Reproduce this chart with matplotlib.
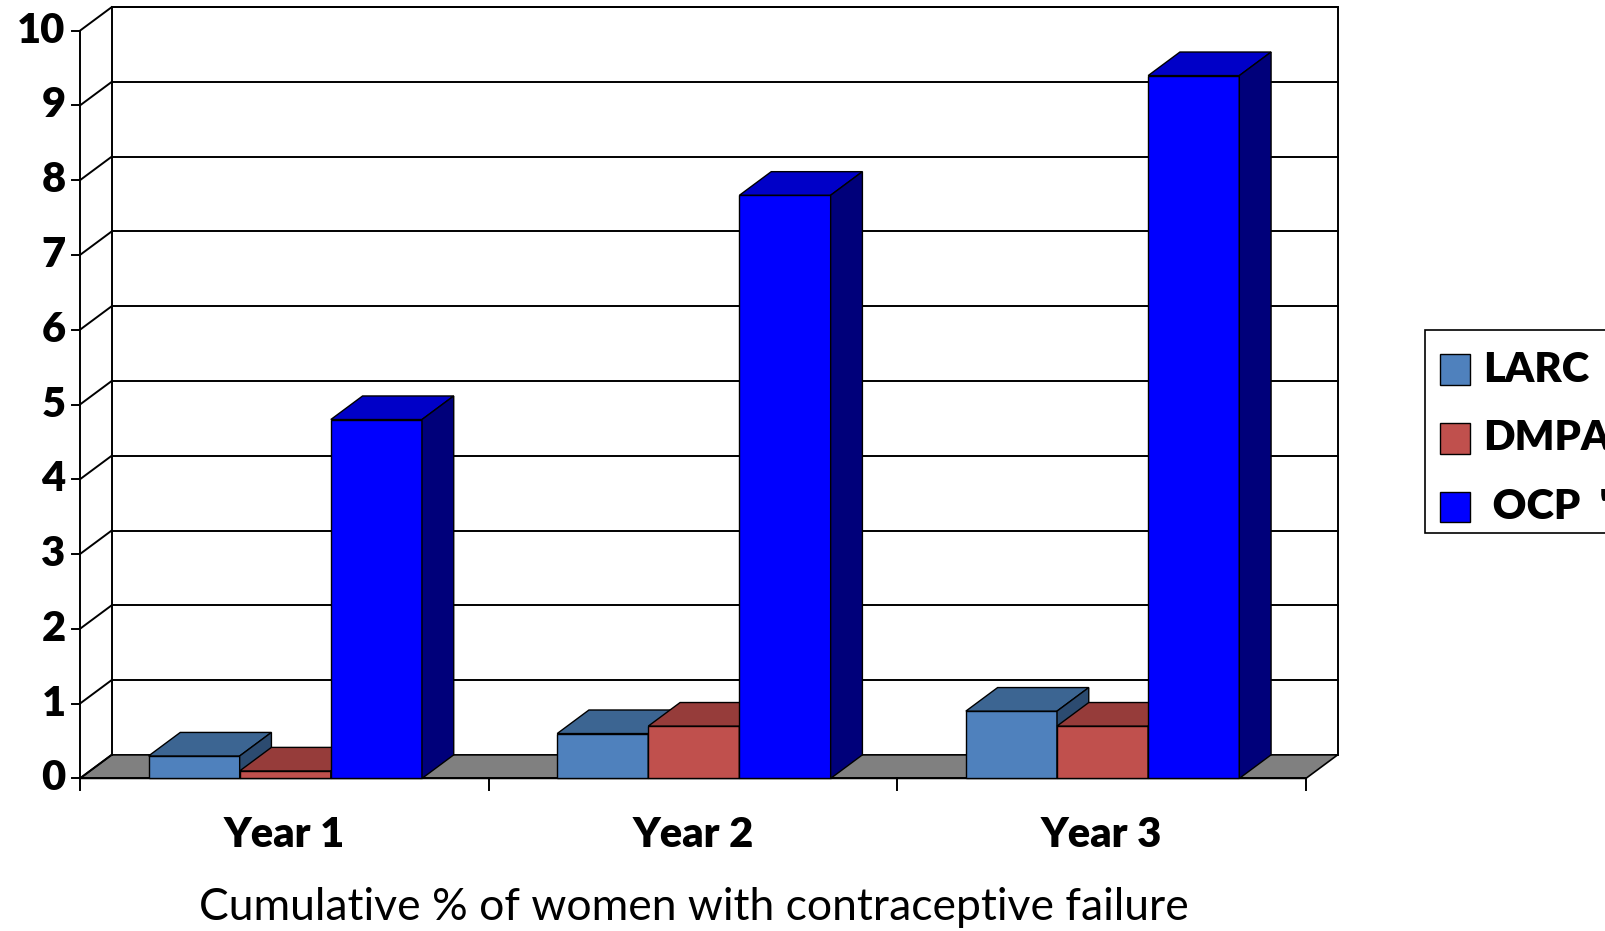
import matplotlib
matplotlib.use('Agg')
import matplotlib.pyplot as plt
from matplotlib.patches import Polygon, Rectangle

categories = ['Year 1', 'Year 2', 'Year 3']
series = ['LARC', 'DMPA', 'OCP']
larc = [0.3, 0.6, 0.9]
dmpa = [0.1, 0.7, 0.7]
ocp = [4.8, 7.8, 9.4]
yticks = list(range(0, 11))
xlabel = 'Cumulative % of women with contraceptive failure'

values = [larc, dmpa, ocp]
front = ['#4F81BD', '#C0504D', '#0000FF']
top = ['#3C6592', '#963C3A', '#0000C8']
side = ['#2C4B70', '#6E2B29', '#00007A']

S = 1606 / 1568.0  # layout measured on a 1568-wide view
W, H = 1606, 931
X0, Y0 = 78 * S, 760 * S
PX, PY = 399.0 * S, 73.0 * S

def fx(px):
    return (px * S - X0) / PX

def fy(py):
    return (Y0 - py * S) / PY

fig = plt.figure(figsize=(16.06, 9.31), dpi=100)
ax = fig.add_axes([0, 0, 1, 1])
ax.set_xlim(-X0 / PX, (W - X0) / PX)
ax.set_ylim((Y0 - H) / PY, Y0 / PY)
ax.axis('off')

dx, dy = 31 / 399.0, 23 / 73.0
n = len(categories)
ymax = yticks[-1]
k = dict(color='black', lw=1.4, zorder=2)
bold = dict(fontweight='heavy', family='Lato')

# floor
ax.add_patch(Polygon([(0, 0), (n, 0), (n + dx, dy), (dx, dy)], closed=True,
                     facecolor='#808080', edgecolor='black', lw=1.2, zorder=1))
# walls
ax.plot([dx, dx, n + dx, n + dx], [dy, ymax + dy, ymax + dy, dy], **k)
ax.plot([0, 0], [0, ymax], **k)
for t in yticks:
    if t > 0:
        ax.plot([dx, n + dx], [t + dy, t + dy], **k)
    ax.plot([0, dx], [t, t + dy], **k)
    ax.plot([-8 / 399.0, 0], [t, t], **k)
    ax.text(-14 / 399.0, t, str(t), ha='right', va='center', fontsize=30, **bold)
# category axis
ax.plot([0, n], [0, 0], **k)
for i in range(n + 1):
    ax.plot([i, i], [0, -11 / 73.0], **k)
for i, c in enumerate(categories):
    ax.text(i + 0.5, fy(815), c, ha='center', va='center', fontsize=30, **bold)
ax.text(fx(677), fy(886), xlabel, ha='center', va='center', fontsize=32, family='Lato')

w = 89 / 399.0
off = 67 / 399.0
for i in range(n):
    for s in range(len(series)):
        x0 = i + off + s * w
        h = values[s][i]
        ax.add_patch(Rectangle((x0, 0), w, h, facecolor=front[s], edgecolor='black', lw=1, zorder=3))
        ax.add_patch(Polygon([(x0, h), (x0 + w, h), (x0 + w + dx, h + dy), (x0 + dx, h + dy)],
                             closed=True, facecolor=top[s], edgecolor='black', lw=1, zorder=3))
        ax.add_patch(Polygon([(x0 + w, 0), (x0 + w + dx, dy), (x0 + w + dx, h + dy), (x0 + w, h)],
                             closed=True, facecolor=side[s], edgecolor='black', lw=1, zorder=3))

# legend box, cut off at the right edge like the reference
lx0, lx1 = fx(1391), fx(1620)
ly0, ly1 = fy(520), fy(322)
ax.add_patch(Rectangle((lx0, ly0), lx1 - lx0, ly1 - ly0, facecolor='white',
                       edgecolor='black', lw=1.2, zorder=4))
labels = ['LARC', 'DMPA', ' OCP  "']
for s, lab in enumerate(labels):
    cy = fy(361 + s * 67)
    ax.add_patch(Rectangle((fx(1406), cy - 15 / 73.0), 29 / 399.0, 30 / 73.0,
                           facecolor=front[s], edgecolor='black', lw=1, zorder=5))
    ax.text(fx(1448), cy, lab, ha='left', va='center', fontsize=30, zorder=5, **bold)

fig.savefig('out.png', dpi=100)
